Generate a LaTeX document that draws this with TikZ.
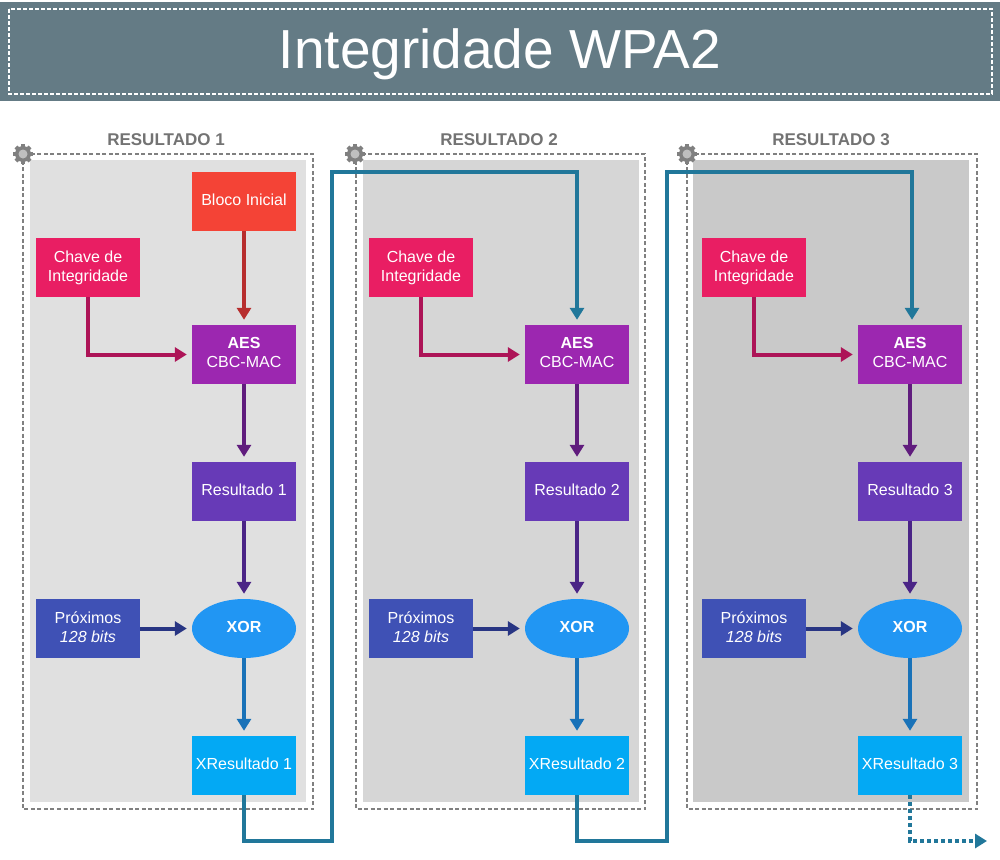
\documentclass[tikz,border=0pt]{standalone}
\usepackage{fontspec}
\setmainfont{Liberation Sans}
\usetikzlibrary{arrows.meta, shapes.geometric}
\definecolor{faixa}{HTML}{647B85}
\definecolor{cinza}{HTML}{808080}
\definecolor{volta}{HTML}{21779A}
\tikzset{
    bloco/.style={minimum width=104pt,minimum height=59pt,inner sep=0pt,align=center,text=white,font=\fontsize{16}{19}\selectfont},
    acima/.style={bloco,text depth=3.5pt},
    seta/.style={line width=4pt,shorten >=5pt,-{Triangle[length=12pt,width=14pt]}},
    painel/.style={draw=cinza,line width=2pt,dash pattern=on 4pt off 2.5pt},
    titulo/.style={font=\bfseries\fontsize{17}{20}\selectfont,text=black!55},
    engrenagem/.pic={
        \fill[cinza] (0,0) circle (8pt);
        \foreach \a in {0,45,...,315} \draw[cinza,line width=4pt] (0,0) -- (\a:10pt);
        \fill[black!25] (0,0) circle (4.5pt);
    }
}
\begin{document}
\begin{tikzpicture}[x=1pt,y=-1pt]
        \useasboundingbox (0,0) rectangle (1000,859);
        %faixa do titulo
        \fill[faixa] (0,2) rectangle (1000,101);
        \draw[white,line width=1.5pt,dash pattern=on 4pt off 2pt] (9,9) rectangle (992,94);
        \node[text=white,font=\fontsize{55}{60}\selectfont] (wpa) at (500,54) {Integridade WPA2};
        %fundos
        \fill[black!12] (30,160) rectangle (306,802);
        \fill[black!16] (363,160) rectangle (639,802);
        \fill[black!21] (693,160) rectangle (969,802);
        %contornos tracejados
        \draw[painel] (23,154) rectangle (313,809);
        \draw[painel] (356,154) rectangle (645,809);
        \draw[painel] (687,154) rectangle (977,809);
        \pic at (23,154) {engrenagem};
        \pic at (355,154) {engrenagem};
        \pic at (687,154) {engrenagem};
        \node[titulo] (res1) at (166,140) {RESULTADO 1};
        \node[titulo] (res2) at (499,140) {RESULTADO 2};
        \node[titulo] (res3) at (831,140) {RESULTADO 3};
        %resultado 1
        \node[acima,fill={rgb,255:red,244;green,67;blue,54}] (inicial) at (244,201.5) {Bloco Inicial};
        \node[bloco,fill={rgb,255:red,233;green,30;blue,99}] (chave1) at (88,267.5) {Chave de\\Integridade};
        \node[acima,fill={rgb,255:red,156;green,39;blue,176}] (aes1) at (244,354.5) {\textbf{AES}\\CBC-MAC};
        \node[acima,fill={rgb,255:red,103;green,58;blue,183}] (saida1) at (244,491.5) {Resultado 1};
        \node[acima,fill={rgb,255:red,63;green,81;blue,181}] (prox1) at (88,628.5) {Próximos\\\textit{128 bits}};
        \node[acima,ellipse,fill={rgb,255:red,33;green,150;blue,243}] (xor1) at (244,628.5) {\textbf{XOR}};
        \node[acima,fill={rgb,255:red,3;green,169;blue,244}] (xres1) at (244,765.5) {XResultado 1};
        %resultado 2
        \node[bloco,fill={rgb,255:red,233;green,30;blue,99}] (chave2) at (421,267.5) {Chave de\\Integridade};
        \node[acima,fill={rgb,255:red,156;green,39;blue,176}] (aes2) at (577,354.5) {\textbf{AES}\\CBC-MAC};
        \node[acima,fill={rgb,255:red,103;green,58;blue,183}] (saida2) at (577,491.5) {Resultado 2};
        \node[acima,fill={rgb,255:red,63;green,81;blue,181}] (prox2) at (421,628.5) {Próximos\\\textit{128 bits}};
        \node[acima,ellipse,fill={rgb,255:red,33;green,150;blue,243}] (xor2) at (577,628.5) {\textbf{XOR}};
        \node[acima,fill={rgb,255:red,3;green,169;blue,244}] (xres2) at (577,765.5) {XResultado 2};
        %resultado 3
        \node[bloco,fill={rgb,255:red,233;green,30;blue,99}] (chave3) at (754,267.5) {Chave de\\Integridade};
        \node[acima,fill={rgb,255:red,156;green,39;blue,176}] (aes3) at (910,354.5) {\textbf{AES}\\CBC-MAC};
        \node[acima,fill={rgb,255:red,103;green,58;blue,183}] (saida3) at (910,491.5) {Resultado 3};
        \node[acima,fill={rgb,255:red,63;green,81;blue,181}] (prox3) at (754,628.5) {Próximos\\\textit{128 bits}};
        \node[acima,ellipse,fill={rgb,255:red,33;green,150;blue,243}] (xor3) at (910,628.5) {\textbf{XOR}};
        \node[acima,fill={rgb,255:red,3;green,169;blue,244}] (xres3) at (910,765.5) {XResultado 3};
        %setas do resultado 1
        \draw[seta,color={rgb,255:red,183;green,45;blue,45}] (inicial) -- (aes1);
        \draw[seta,color={rgb,255:red,173;green,20;blue,87}] (chave1.south) |- (aes1.west);
        \draw[seta,color={rgb,255:red,96;green,28;blue,125}] (aes1) -- (saida1);
        \draw[seta,color={rgb,255:red,74;green,36;blue,134}] (saida1) -- (xor1);
        \draw[seta,color={rgb,255:red,40;green,53;blue,131}] (prox1) -- (xor1);
        \draw[seta,color={rgb,255:red,25;green,114;blue,184}] (xor1) -- (xres1);
        %setas do resultado 2
        \draw[seta,color={rgb,255:red,173;green,20;blue,87}] (chave2.south) |- (aes2.west);
        \draw[seta,color={rgb,255:red,96;green,28;blue,125}] (aes2) -- (saida2);
        \draw[seta,color={rgb,255:red,74;green,36;blue,134}] (saida2) -- (xor2);
        \draw[seta,color={rgb,255:red,40;green,53;blue,131}] (prox2) -- (xor2);
        \draw[seta,color={rgb,255:red,25;green,114;blue,184}] (xor2) -- (xres2);
        %setas do resultado 3
        \draw[seta,color={rgb,255:red,173;green,20;blue,87}] (chave3.south) |- (aes3.west);
        \draw[seta,color={rgb,255:red,96;green,28;blue,125}] (aes3) -- (saida3);
        \draw[seta,color={rgb,255:red,74;green,36;blue,134}] (saida3) -- (xor3);
        \draw[seta,color={rgb,255:red,40;green,53;blue,131}] (prox3) -- (xor3);
        \draw[seta,color={rgb,255:red,25;green,114;blue,184}] (xor3) -- (xres3);
        %voltas entre os resultados
        \coordinate (baixo1) at (332,841);
        \coordinate (cima1) at (332,172);
        \coordinate (baixo2) at (667,841);
        \coordinate (cima2) at (667,172);
        \coordinate (fim) at (992,841);
        \draw[seta,color=volta] (xres1.south) |- (baixo1) -- (cima1) -| (aes2.north);
        \draw[seta,color=volta] (xres2.south) |- (baixo2) -- (cima2) -| ([xshift=2pt]aes3.north);
        \draw[seta,color=volta,dash pattern=on 4pt off 3pt] (xres3.south) |- (fim);
    \end{tikzpicture}
\end{document}
